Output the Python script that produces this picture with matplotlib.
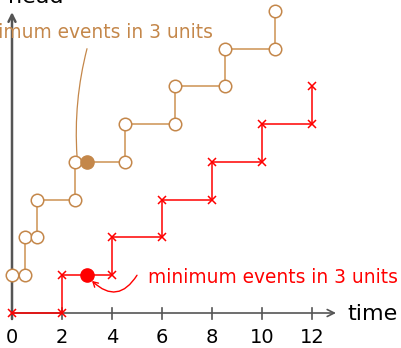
import matplotlib
matplotlib.use("Agg")
import matplotlib.pyplot as plt

# data
red_t = [0, 2, 2, 4, 4, 6, 6, 8, 8, 10, 10, 12, 12]
red_n = [0, 0, 1, 1, 2, 2, 3, 3, 4, 4, 5, 5, 6]
orange_t = [0, 0.5, 0.5, 1, 1, 2.5, 2.5, 4.5, 4.5, 6.5, 6.5, 8.5, 8.5, 10.5, 10.5]
orange_n = [1, 1, 2, 2, 3, 3, 4, 4, 5, 5, 6, 6, 7, 7, 8]
red_min_pt = (3, 1)
orange_min_pt = (3, 4)
tick_vals = [0, 2, 4, 6, 8, 10, 12]
tick_labels = ["0", "2", "4", "6", "8", "10", "12"]
annot_text = "minimum events in 3 units"
xlabel = "time"
ylabel = "head"

plt.rcParams['font.family'] = ['DejaVu Sans']

RED = '#FF0000'
ORANGE = '#C4874A'
ORANGE_LINE = '#D4A26C'
AXIS = '#555555'

fig = plt.figure(figsize=(4.02, 3.48), dpi=100)
ax = fig.add_axes([0, 0, 1, 1])
ax.set_xlim(-0.48, 15.6)
ax.set_ylim(-0.927, 8.29)
ax.axis('off')

# axes with arrows
ax.annotate('', xy=(12.96, 0), xytext=(0, 0),
            arrowprops=dict(arrowstyle='->,head_length=0.5,head_width=0.25',
                            color=AXIS, lw=1.2, shrinkA=0, shrinkB=0), zorder=1)
ax.annotate('', xy=(0, 7.97), xytext=(0, -0.16),
            arrowprops=dict(arrowstyle='->,head_length=0.5,head_width=0.25',
                            color=AXIS, lw=1.8, shrinkA=0, shrinkB=0), zorder=1)
for t, lab in zip(tick_vals, tick_labels):
    ax.plot([t, t], [0.13, -0.16], color=AXIS, lw=1.2, zorder=1)
    ax.text(t, -0.66, lab, ha='center', va='center', fontsize=14, color='black')

ax.text(13.4, -0.03, xlabel, ha='left', va='center', fontsize=16, color='black')
ax.text(2.04, 8.21, ylabel, ha='right', va='baseline', fontsize=16, color='black')

# red step series
ax.plot(red_t, red_n, color=RED, lw=1.1, zorder=2)
ax.plot(red_t, red_n, ls='none', marker='x', ms=6, mew=1.1, color=RED, zorder=3)
ax.plot(*red_min_pt, marker='o', ms=9.5, color=RED, mec=RED, zorder=4)

# orange step series
ax.plot(orange_t, orange_n, color=ORANGE_LINE, lw=1.3, zorder=2)
ax.plot(orange_t, orange_n, ls='none', marker='o', ms=9, mfc='white', mec=ORANGE,
        mew=1.1, zorder=3)
ax.plot(*orange_min_pt, marker='o', ms=9.5, color=ORANGE, mec=ORANGE, zorder=4)

# annotations
ax.text(3.04, 7.28, annot_text, ha='center', va='baseline', fontsize=13.4, color=ORANGE)
ax.annotate('', xy=(2.6, 4.16), xytext=(3.0, 7.0),
            arrowprops=dict(arrowstyle='-', color=ORANGE, lw=0.9,
                            shrinkA=0, shrinkB=0,
                            connectionstyle='arc3,rad=0.08'), zorder=5)

ax.text(5.44, 0.795, annot_text, ha='left', va='baseline', fontsize=13.4, color=RED)
ax.annotate('', xy=(3.2, 0.85), xytext=(5.0, 1.0),
            arrowprops=dict(arrowstyle='->,head_length=0.35,head_width=0.2',
                            color=RED, lw=1.0, shrinkA=0, shrinkB=0,
                            connectionstyle='arc3,rad=-0.6'), zorder=5)

fig.savefig('out.png', dpi=100)
